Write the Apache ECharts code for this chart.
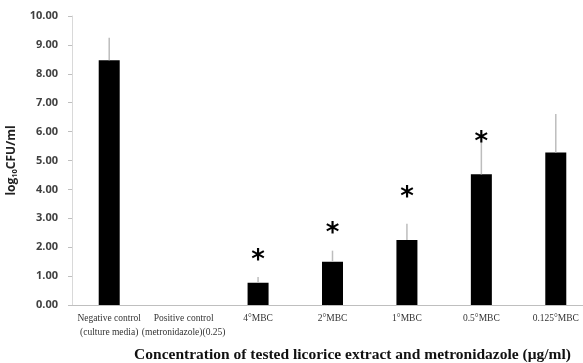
<!DOCTYPE html>
<html><head><meta charset="utf-8">
<script src="https://cdn.jsdelivr.net/npm/echarts@6/dist/echarts.min.js"></script>
<style>html,body{margin:0;padding:0;background:#fff}#c{width:583px;height:363px}</style>
</head><body><div id="c"></div>
<script>
const categories = ['Negative control\n(culture media)', 'Positive control\n(metronidazole)(0.25)', '4°MBC', '2°MBC', '1°MBC', '0.5°MBC', '0.125°MBC'];
const means = [8.47, 0, 0.77, 1.50, 2.25, 4.52, 5.28];
const errors = [0.78, 0, 0.20, 0.38, 0.56, 1.13, 1.33];
const starY = [null, null, 1.71, 2.64, 3.90, 5.82, null];
const yTicks = [0, 10, 1];

const chart = echarts.init(document.getElementById('c'));
chart.setOption({
  animation: false,
  grid: {left: 72, right: -10, top: 16, bottom: 58, containLabel: false, outerBoundsMode: 'none'},
  xAxis: {
    type: 'category', data: categories,
    axisLine: {lineStyle: {color: '#bfbfbf'}},
    axisTick: {show: false},
    axisLabel: {interval: 0, fontFamily: 'Liberation Serif', fontSize: 9.5, color: '#333', lineHeight: 14, margin: 6},
    name: 'Concentration of tested licorice extract and metronidazole (μg/ml)',
    nameLocation: 'middle', nameGap: 42,
    nameTextStyle: {fontFamily: 'Liberation Serif', fontWeight: 'bold', fontSize: 15.5, color: '#111', padding: [0, 0, 0, 40]}
  },
  yAxis: {
    type: 'value', min: yTicks[0], max: yTicks[1], interval: yTicks[2],
    axisLine: {show: true, lineStyle: {color: '#d9d9d9'}},
    axisTick: {show: true, length: 4, lineStyle: {color: '#bfbfbf'}},
    splitLine: {show: false},
    axisLabel: {formatter: v => v.toFixed(2), fontFamily: 'Open Sans', fontWeight: 'bold', fontSize: 11, color: '#404040', margin: 14},
    name: '{a|log}{s|10}{a|CFU/ml}', nameLocation: 'middle', nameGap: 43, nameRotate: 90,
    nameTextStyle: {rich: {
      a: {fontFamily: 'Open Sans', fontWeight: 'bold', fontSize: 12, color: '#222'},
      s: {fontFamily: 'Open Sans', fontWeight: 'bold', fontSize: 7.5, color: '#222', verticalAlign: 'bottom', padding: [6, 0, 0, 0]}
    }}
  },
  series: [
    {type: 'bar', data: means, barWidth: 21, itemStyle: {color: '#000'}, z: 2},
    {type: 'custom', z: 3,
      data: means.map((m, i) => [i, m, errors[i], starY[i]]),
      renderItem: (params, api) => {
        const i = api.value(0), m = api.value(1), e = api.value(2), s = api.value(3);
        const children = [];
        if (e > 0) {
          const p0 = api.coord([i, m]), p1 = api.coord([i, m + e]);
          children.push({type: 'line', shape: {x1: p0[0], y1: p0[1], x2: p1[0], y2: p1[1]}, style: {stroke: '#bdbdbd', lineWidth: 1.5}});
        }
        if (s !== null && !isNaN(s)) {
          const q = api.coord([i, s]);
          children.push({type: 'text', style: {text: '*', x: q[0], y: q[1] + 6, align: 'center', verticalAlign: 'middle', fontSize: 26, fontWeight: 'bold', fontFamily: 'DejaVu Sans', fill: '#000'}});
        }
        return {type: 'group', children};
      }
    }
  ]
});
</script></body></html>
